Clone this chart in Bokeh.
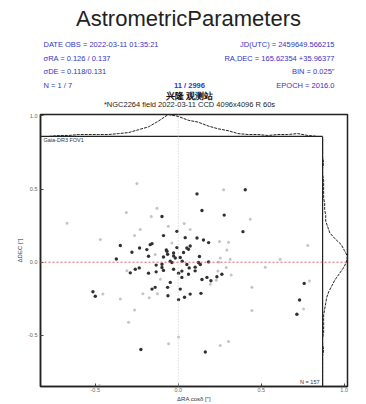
from bokeh.plotting import figure
from bokeh.models import Range1d, FixedTicker, Label, Span
from bokeh.layouts import column
from bokeh.core.properties import value
from bokeh.embed import file_html
from bokeh.resources import INLINE

# ---------------- data ----------------
title_text = "AstrometricParameters"
info_left = ["DATE OBS = 2022-03-11 01:35:21", "\u03c3RA = 0.126 / 0.137", "\u03c3DE = 0.118/0.131", "N = 1 / 7"]
info_right = ["JD(UTC) = 2459649.566215", "RA,DEC = 165.62354 +35.96377", "BIN = 0.025\"", "EPOCH = 2016.0"]
info_center = "11 / 2996"
subtitle1 = "\u5174\u9686 \u89c2\u6d4b\u7ad9"
subtitle2 = "*NGC2264 field 2022-03-11 CCD 4096x4096 R 60s"
corner_tl = "Gaia-DR3  FOV1"
corner_br = "N = 157"
x_label = "\u0394RA cos\u03b4 [\u2033]"
y_label = "\u0394DEC [\u2033]"

x_ticks = [-0.5, 0.0, 0.5, 1.0]
x_tick_labels = ["-0.5", "0.0", "0.5", "1.0"]
y_ticks = [-0.5, 0.0, 0.5, 1.0]
y_tick_labels = ["-0.5", "0.0", "0.5", "1.0"]

dark_x = [-0.098, -0.008, -0.089, -0.349, -0.233, -0.169, -0.189, -0.279, -0.068, -0.028,
          -0.179, -0.089, -0.018, -0.373, 0.143, 0.277, 0.390, -0.158, 0.042, 0.152,
          0.183, -0.072, -0.008, 0.032, 0.062, 0.072, -0.064, -0.028, 0.012, 0.128,
          -0.038, -0.098, 0.122, 0.183, -0.259, -0.179, -0.133, -0.098, -0.028, 0.002,
          0.022, 0.062, 0.102, 0.173, 0.233, 0.263, 0.197, -0.048, -0.064, 0.012,
          0.072, 0.038, 0.002, -0.062, -0.139, -0.158, 0.137, -0.514, -0.500, -0.225,
          0.163, 0.404, 0.113, 0.113, 0.052, -0.289, -0.235, -0.089, 0.759, 0.731,
          0.715, 0.143, 0.102, 0.066, 0.052, 0.022, 0.133, -0.133, -0.048, 0.024]
dark_y = [0.313, 0.211, 0.182, 0.114, 0.097, 0.120, 0.086, 0.068, 0.075, 0.063,
          0.041, 0.036, 0.029, 0.022, 0.354, 0.322, 0.209, 0.127, 0.168, 0.152,
          0.134, 0.084, 0.100, 0.066, 0.088, 0.111, 0.054, 0.043, 0.032, 0.039,
          -0.002, -0.014, -0.002, 0.002, -0.048, -0.075, -0.066, -0.036, -0.048, -0.075,
          -0.104, -0.082, -0.059, -0.104, -0.100, -0.082, -0.127, -0.138, -0.172, -0.184,
          -0.218, -0.240, -0.256, -0.229, -0.172, -0.184, -0.213, -0.202, -0.233, -0.597,
          -0.614, 0.495, 0.467, 0.165, 0.097, -0.073, -0.039, -0.056, -0.145, -0.259,
          -0.356, -0.118, -0.034, -0.039, -0.016, -0.061, -0.016, -0.020, 0.007, 0.007]

light_x = [-0.249, -0.128, -0.313, -0.163, -0.670, -0.060, -0.263, -0.038, -0.139, 0.036,
           0.249, 0.293, 0.243, 0.313, -0.309, 0.289, -0.454, 0.444, 0.444, -0.263,
           -0.299, 0.002, -0.058, 0.253, 0.303, 0.273, 0.303, 0.781, 0.253, -0.125,
           -0.213, -0.175, -0.474, 0.791, 0.524, 0.239, 0.319, 0.229, 0.755, -0.108,
           0.193, -0.229, 0.072, -0.470, 0.434, -0.349, 0.614]
light_y = [0.539, 0.369, 0.340, 0.313, 0.267, 0.245, 0.182, 0.131, 0.052, 0.265,
           0.141, 0.084, 0.002, 0.020, -0.059, -0.036, -0.218, -0.172, -0.331, -0.327,
           -0.410, -0.512, -0.558, -0.569, -0.542, 0.495, 0.136, 0.114, 0.029, -0.216,
           -0.216, -0.243, -0.844, -0.129, -0.034, -0.061, -0.088, -0.124, -0.320, -0.116,
           -0.150, 0.224, 0.224, 0.156, 0.293, -0.252, 0.020]

# marginal distribution along x (top panel)
histx_centers = [-0.78, -0.72, -0.66, -0.60, -0.54, -0.48, -0.42, -0.36, -0.30, -0.24,
                 -0.18, -0.12, -0.06, 0.00, 0.06, 0.12, 0.18, 0.24, 0.30, 0.36,
                 0.42, 0.48, 0.54, 0.60, 0.66, 0.72, 0.78, 0.84]
histx_counts = [0, 1, 1, 2, 2, 2, 2, 3, 4, 7,
                10, 16, 23, 21, 17, 15, 11, 8, 6, 3,
                2, 2, 1, 2, 2, 3, 1, 0]

# marginal distribution along y (right panel)
histy_centers = [0.84, 0.80, 0.76, 0.72, 0.68, 0.64, 0.60, 0.56, 0.52, 0.48,
                 0.44, 0.40, 0.36, 0.32, 0.28, 0.24, 0.20, 0.16, 0.12, 0.08,
                 0.04, 0.00, -0.04, -0.08, -0.12, -0.16, -0.20, -0.24, -0.28, -0.32,
                 -0.36, -0.40, -0.44, -0.48, -0.52, -0.56, -0.60, -0.64, -0.68, -0.72,
                 -0.76, -0.80, -0.84]
histy_counts = [0, 0, 0, 0, 1, 0, 0, 1, 1, 1,
                1, 2, 2, 3, 3, 5, 7, 12, 18, 21,
                24, 23, 20, 16, 12, 9, 6, 4, 3, 2,
                1, 1, 1, 1, 0, 0, 1, 0, 0, 0,
                0, 0, 0]

# ---------------- layout constants ----------------
XMIN, XMAX = -0.83, 1.02
YMIN, YMAX = -0.85, 1.01
MAIN_TOP = 0.86
MAIN_RIGHT = 0.87
FONT = "Liberation Sans"
BLUE = "#3434c4"
HEADER_H = 112
BORDER_L, BORDER_R = 40, 19

# ---------------- header (title + info block) ----------------
h = figure(width=366, height=HEADER_H, x_range=Range1d(BORDER_L, 366 - BORDER_R), y_range=Range1d(HEADER_H, 0),
           output_backend="svg", toolbar_location=None, x_axis_type=None, y_axis_type=None,
           min_border_left=BORDER_L, min_border_right=BORDER_R, min_border_top=0, min_border_bottom=0)
h.grid.visible = False
h.outline_line_color = None

def htext(xs, ys, texts, size, color, align="left", style="normal"):
    h.text(x=xs, y=ys, text=texts, text_font=value(FONT), text_font_size=size,
           text_color=color, text_align=align, text_baseline="middle", text_font_style=style)

rows = [44, 58, 71, 85]
htext([188], [18], [title_text], "22px", "#222222", "center")
htext([43] * 4, rows, info_left, "7.5px", BLUE)
htext([334] * 4, rows, info_right, "7.5px", BLUE, "right")
htext([189], [85], [info_center], "7.5px", BLUE, "center", "bold")
htext([189], [95], [subtitle1], "9px", "#111111", "center", "bold")
htext([189], [104], [subtitle2], "7.5px", "#222222", "center")

# ---------------- main plot ----------------
p = figure(width=366, height=404 - HEADER_H, x_range=Range1d(XMIN, XMAX), y_range=Range1d(YMIN, YMAX),
           output_backend="svg", toolbar_location=None,
           min_border_left=BORDER_L, min_border_right=BORDER_R, min_border_top=2, min_border_bottom=16)
p.grid.visible = False
p.outline_line_color = "#222222"
p.outline_line_width = 1.5

for ax, ticks, labels in ((p.xaxis[0], x_ticks, x_tick_labels), (p.yaxis[0], y_ticks, y_tick_labels)):
    ax.ticker = FixedTicker(ticks=ticks)
    ax.major_label_overrides = {t: l for t, l in zip(ticks, labels)}
    ax.major_tick_in = 3
    ax.major_tick_out = 0
    ax.minor_tick_line_color = None
    ax.axis_line_color = "#222222"
    ax.axis_line_width = 1.5
    ax.major_tick_line_color = "#444444"
    ax.major_label_text_font = FONT
    ax.major_label_text_font_size = "5.5px"
    ax.major_label_text_color = "#666666"
    ax.major_label_standoff = 1
    ax.axis_label_text_font = FONT
    ax.axis_label_text_font_size = "6px"
    ax.axis_label_text_font_style = "normal"
    ax.axis_label_text_color = "#333333"
    ax.axis_label_standoff = 1

p.yaxis[0].major_label_standoff = 3
p.yaxis[0].axis_label_standoff = 2
p.xaxis.axis_label = x_label
p.yaxis.axis_label = y_label

# reference lines
p.add_layout(Span(location=0, dimension="width", line_color="#e05a5a", line_dash="2 2", line_width=1))
p.add_layout(Span(location=0, dimension="height", line_color="#c8c8c8", line_dash="1 2", line_width=1))

# inner panel borders
p.segment(x0=[XMIN, MAIN_RIGHT], y0=[MAIN_TOP, YMIN], x1=[MAIN_RIGHT, MAIN_RIGHT], y1=[MAIN_TOP, MAIN_TOP],
          line_color="#222222", line_width=1.2)

# scatter
p.scatter(light_x, light_y, size=3, color="#c4c4c4", line_color=None)
p.scatter(dark_x, dark_y, size=3.4, color="#303030", line_color=None)

# marginal curves
peak_x = max(histx_counts)
top_y = [MAIN_TOP + c * (YMAX - MAIN_TOP) / peak_x for c in histx_counts]
p.line(histx_centers, top_y, line_color="#222222", line_width=1, line_dash="3 1")
peak_y = max(histy_counts)
right_x = [MAIN_RIGHT + c * (XMAX - MAIN_RIGHT) / peak_y for c in histy_counts]
p.line(right_x, histy_centers, line_color="#222222", line_width=1, line_dash="3 1")

# corner texts inside the frame (screen units relative to the frame's lower-left corner)
FRAME_L, FRAME_B = 40, 388

def add_text(txt, cx, cy, size, color, align="left"):
    p.add_layout(Label(x=cx - FRAME_L, y=FRAME_B - cy, x_units="screen", y_units="screen", text=txt,
                       text_font=FONT, text_font_size=size, text_color=color, text_align=align,
                       text_baseline="middle"))

add_text(corner_tl, 43, 141, "5.5px", "#333333")
add_text(corner_br, 319, 383, "5.5px", "#333333", "right")

layout = column(h, p, spacing=0)
open("out.html", "w").write(file_html(layout, INLINE))
